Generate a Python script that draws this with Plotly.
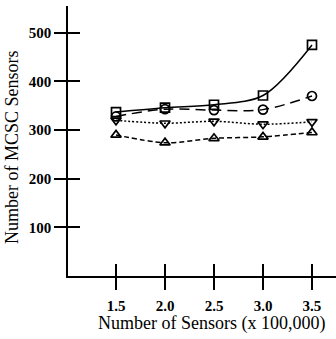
import plotly.graph_objects as go

sensors = [1.5, 2.0, 2.5, 3.0, 3.5]
square_vals = [337, 346, 352, 371, 475]
circle_vals = [328, 343, 341, 342, 370]
tri_down_vals = [320, 314, 318, 312, 317]
tri_up_vals = [290, 274, 283, 286, 295]

x_ticks = [1.5, 2.0, 2.5, 3.0, 3.5]
x_tick_labels = ["1.5", "2.0", "2.5", "3.0", "3.5"]
y_ticks = [100, 200, 300, 400, 500]
y_tick_labels = ["100", "200", "300", "400", "500"]

FONT = "Liberation Serif"

series = [
    (square_vals, "square-open", "solid"),
    (circle_vals, "circle-open", "10px,6px"),
    (tri_down_vals, "triangle-down-open", "2px,2px"),
    (tri_up_vals, "triangle-up-open", "5px,3px"),
]

fig = go.Figure()
for vals, sym, dash in series:
    fig.add_trace(go.Scatter(
        x=sensors, y=vals, mode="lines+markers",
        line=dict(color="black", width=1.5, dash=dash, shape="spline", smoothing=0.9),
        marker=dict(symbol=sym, size=9, color="black", line=dict(color="black", width=1.7)),
        showlegend=False, cliponaxis=False,
    ))

# invisible trace to carry the overlay axes (ticks crossing the axis lines)
fig.add_trace(go.Scatter(x=[], y=[], xaxis="x2", yaxis="y2", showlegend=False))

xr = [1.01, 3.745]
yr = [0, 555]

tickfont = dict(family=FONT, size=15, color="black", weight="bold")

fig.update_layout(
    width=336, height=339,
    margin=dict(l=68, r=0, t=6, b=63),
    paper_bgcolor="white", plot_bgcolor="white",
    font=dict(family=FONT, color="black"),
    xaxis=dict(range=xr, tickvals=x_ticks, ticktext=x_tick_labels, ticks="outside",
               ticklen=12, tickwidth=1.6, tickcolor="black", showline=True,
               linecolor="black", linewidth=1.6, showgrid=False, zeroline=False,
               tickfont=tickfont, ticklabelstandoff=3),
    yaxis=dict(range=yr, tickvals=y_ticks, ticktext=y_tick_labels, ticks="outside",
               ticklen=12, tickwidth=1.6, tickcolor="black", showline=True,
               linecolor="black", linewidth=1.6, showgrid=False, zeroline=False,
               tickfont=tickfont),
    xaxis2=dict(range=xr, overlaying="x", side="bottom", tickvals=x_ticks, ticks="inside",
                ticklen=12, tickwidth=1.6, tickcolor="black", showticklabels=False,
                showline=False, showgrid=False, zeroline=False),
    yaxis2=dict(range=yr, overlaying="y", side="left", tickvals=y_ticks, ticks="inside",
                ticklen=12, tickwidth=1.6, tickcolor="black", showticklabels=False,
                showline=False, showgrid=False, zeroline=False),
    annotations=[
        dict(text="Number of Sensors (x 100,000)", xref="paper", yref="paper",
             x=(211 - 68) / 268, y=-(323 - 276) / 270, xanchor="center", yanchor="middle",
             showarrow=False, font=dict(family=FONT, size=18, color="black")),
        dict(text="Number of MCSC Sensors", xref="paper", yref="paper",
             x=-(68 - 12) / 268, y=(276 - 147) / 270, xanchor="center", yanchor="middle",
             textangle=-90, showarrow=False, font=dict(family=FONT, size=18, color="black")),
    ],
)

fig.write_html("out.html")
